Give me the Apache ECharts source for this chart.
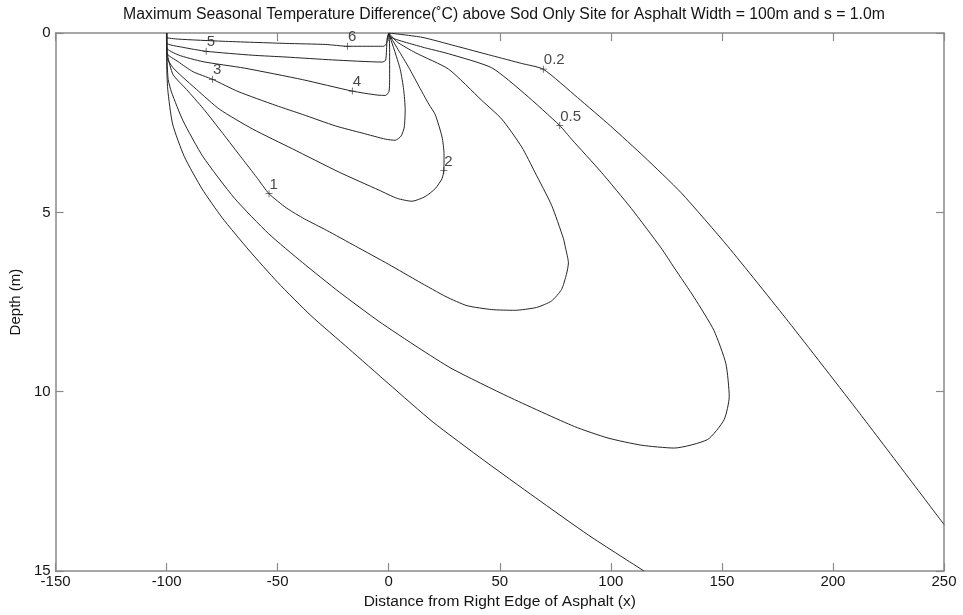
<!DOCTYPE html>
<html>
<head>
<meta charset="utf-8">
<script src="https://cdn.jsdelivr.net/npm/echarts@6/dist/echarts.min.js"></script>
<style>
  html, body { margin: 0; padding: 0; background: #fff; }
  #chart { width: 963px; height: 615px; }
</style>
</head>
<body>
<div id="chart"></div>
<script>
// Axis ranges and ticks
const xRange = [-150, 250];
const xStep = 50;
const depthRange = [0, 15];
const depthStep = 5;

// Contour lines: [distance x (m), depth (m)]
const level6 = [[-100,0],[-100,0.12],[-94.8,0.17],[-74.7,0.23],[-46.4,0.29],[-28.3,0.32],[-18.6,0.37],[-5.2,0.37],[-2.2,0.37],[-1.0,0.29],[-0.5,0.14],[0,0]];
const level5 = [[-100,0],[-100,0.28],[-92.6,0.40],[-82.2,0.51],[-61.2,0.62],[-46.3,0.67],[-25.3,0.75],[-2.9,0.81],[-1.4,0.76],[-1.0,0.47],[-0.7,0.14],[0,0]];
const level4 = [[-100,0],[-100,0.41],[-94.8,0.61],[-83.6,0.80],[-64.9,0.98],[-38.8,1.30],[-16.4,1.62],[-5.2,1.73],[-1.4,1.74],[0.1,1.63],[0.4,1.30],[0.4,0.47],[0.2,0.10],[0,0]];
const level3 = [[-100,0],[-100,0.55],[-94.8,0.80],[-88.1,1.08],[-79.4,1.29],[-67.9,1.63],[-50.8,2.02],[-38.8,2.27],[-24,2.59],[-11.9,2.79],[-1.4,2.96],[2.9,2.99],[5.6,2.87],[7,2.62],[7.4,2.13],[6.7,1.57],[5.2,1.02],[2.5,0.47],[0.7,0.14],[0,0]];
const level2 = [[-100,0],[-99.8,0.69],[-97.1,0.97],[-92.6,1.24],[-86.6,1.57],[-76.1,2.13],[-61.2,2.68],[-43.3,3.23],[-22.3,3.88],[-4.4,4.38],[3.8,4.61],[10.5,4.69],[16.4,4.56],[20.9,4.34],[24,4.06],[24.8,3.83],[24.9,3.37],[24,2.90],[20.9,2.27],[18,1.98],[13.2,1.44],[9.1,0.97],[4.3,0.47],[1.1,0.14],[0,0]];
const level1 = [[-100,0],[-99.6,0.61],[-97.1,1.16],[-91.1,1.57],[-83.6,2.10],[-74.7,2.80],[-66,3.50],[-59.5,4.02],[-53.9,4.48],[-46,4.88],[-38,5.18],[-28,5.50],[-15,5.94],[0,6.45],[13.5,6.93],[25.8,7.35],[35.2,7.60],[46.4,7.71],[56.7,7.73],[66.6,7.65],[73.3,7.47],[77.8,7.15],[80,6.73],[80.9,6.41],[79.6,5.99],[78.6,5.72],[73.3,4.80],[65.8,3.88],[59.9,3.18],[50.9,2.40],[41.9,1.88],[27,1.01],[12,0.55],[3.8,0.25],[0,0]];
const level05 = [[-100,0],[-99.8,0.75],[-99.3,1.30],[-97.8,1.65],[-92.6,2.45],[-83.6,3.45],[-69.4,4.61],[-54,5.60],[-38.8,6.40],[-22.3,7.22],[-4.4,8.04],[13.5,8.78],[28.5,9.36],[53.9,10.14],[83.6,10.97],[98.7,11.29],[113.7,11.49],[128.5,11.57],[143.6,11.33],[151,10.78],[153.3,10.14],[151.8,9.22],[146.4,8.29],[137.6,7.38],[128.6,6.55],[122.6,5.99],[109.2,4.89],[95.7,3.88],[82.3,2.96],[77,2.58],[61.3,1.70],[46.4,0.97],[27,0.58],[15,0.39],[0.1,0.09],[0,0]];
const level02Left = [[-100,0],[-100,0.75],[-99.5,1.57],[-97.3,2.54],[-92,3.45],[-84,4.35],[-75,5.15],[-63,6.05],[-50,6.95],[-35,7.88],[-18,8.8],[0,9.78],[20,10.85],[43,11.92],[66,12.95],[90,14.0],[115,15]];
const level02Right = [[0,0],[15,0.12],[30,0.36],[46.4,0.63],[59.9,0.85],[69.6,1.01],[85,1.80],[100,2.60],[115,3.45],[131.6,4.45],[152.7,5.95],[180,8.05],[212,10.6],[250,13.7]];

// Contour labels: [x, depth, text]
const contourLabels = [[-18.6,0.37,'6'],[-82.2,0.51,'5'],[-16.4,1.62,'4'],[-79.4,1.29,'3'],[24.8,3.83,'2'],[-53.9,4.48,'1'],[69.6,1.01,'0.2'],[77,2.58,'0.5']];

const contours = [level6, level5, level4, level3, level2, level1, level05, level02Left, level02Right];

const FONT = 'Liberation Sans, Arial, sans-serif';
const AXIS_GRAY = '#8a8a8a';
const LINE_COLOR = '#262626';
const TEXT_COLOR = '#151515';

const chart = echarts.init(document.getElementById('chart'), null, { renderer: 'canvas' });

const baseX = {
  type: 'value', min: xRange[0], max: xRange[1], interval: xStep,
  splitLine: { show: false },
  axisLine: { show: true, onZero: false, lineStyle: { color: AXIS_GRAY, width: 1.5 } },
  axisTick: { show: true, inside: true, length: 8, lineStyle: { color: AXIS_GRAY, width: 1.2 } }
};
const baseY = {
  type: 'value', inverse: true, min: depthRange[0], max: depthRange[1], interval: depthStep,
  splitLine: { show: false },
  axisLine: { show: true, onZero: false, lineStyle: { color: AXIS_GRAY, width: 1.5 } },
  axisTick: { show: true, inside: true, length: 8, lineStyle: { color: AXIS_GRAY, width: 1.2 } }
};

const series = contours.map(pts => ({
  type: 'line',
  data: pts,
  smooth: 0.2,
  symbol: 'none',
  silent: true,
  clip: true,
  lineStyle: { color: LINE_COLOR, width: 1 },
  xAxisIndex: 0, yAxisIndex: 0
}));

series.push({
  type: 'scatter',
  data: contourLabels.map(d => ({ value: [d[0], d[1]], name: d[2] })),
  symbol: 'path://M4,0h1v9h-1z M0,4h9v1h-9z',
  symbolSize: 7,
  itemStyle: { color: LINE_COLOR },
  silent: true,
  label: {
    show: true,
    formatter: p => p.name,
    position: [4, -13],
    align: 'left',
    verticalAlign: 'top',
    fontFamily: FONT,
    fontSize: 15,
    color: TEXT_COLOR
  },
  xAxisIndex: 0, yAxisIndex: 0
});

chart.setOption({
  animation: false,
  backgroundColor: '#fff',
  title: {
    text: 'Maximum Seasonal Temperature Difference(˚C) above Sod Only Site for Asphalt Width = 100m and s = 1.0m',
    left: 499, top: 2, textAlign: 'center',
    textStyle: { fontFamily: FONT, fontSize: 15.8, fontWeight: 'normal', color: TEXT_COLOR }
  },
  grid: { left: 52, right: 19, top: 33, bottom: 39, containLabel: false },
  xAxis: [
    Object.assign({}, baseX, {
      position: 'bottom',
      name: 'Distance from Right Edge of Asphalt (x)',
      nameLocation: 'middle', nameGap: 20,
      nameTextStyle: { fontFamily: FONT, fontSize: 15.5, color: TEXT_COLOR },
      axisLabel: { margin: 3, fontFamily: FONT, fontSize: 15, color: TEXT_COLOR }
    }),
    Object.assign({}, baseX, { position: 'top', axisLabel: { show: false } })
  ],
  yAxis: [
    Object.assign({}, baseY, {
      position: 'left',
      name: 'Depth (m)',
      nameLocation: 'middle', nameGap: 26,
      nameTextStyle: { fontFamily: FONT, fontSize: 15, color: TEXT_COLOR },
      axisLabel: { margin: 5, fontFamily: FONT, fontSize: 15, color: TEXT_COLOR }
    }),
    Object.assign({}, baseY, { position: 'right', axisLabel: { show: false } })
  ],
  series: series
});
</script>
</body>
</html>
